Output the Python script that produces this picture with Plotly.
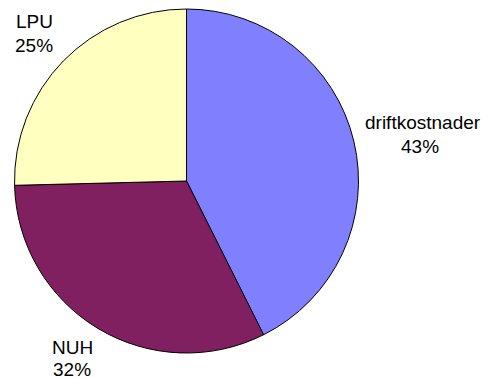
import plotly.graph_objects as go

labels = ["driftkostnader", "NUH", "LPU"]
values = [42.6, 32.0, 25.4]
colors = ["#8080FF", "#802060", "#FFFFC0"]
pct_text = ["43%", "32%", "25%"]

W, H = 484, 378

fig = go.Figure(go.Pie(
    labels=labels, values=values, sort=False, direction="clockwise", rotation=0,
    marker=dict(colors=colors, line=dict(color="black", width=1)),
    textinfo="none", hoverinfo="label+percent", showlegend=False,
    domain=dict(x=[14.5 / W, 358.5 / W], y=[(H - 353) / H, (H - 9) / H]),
))

# label positions (pixel centers) for name and percent lines
label_pos = {
    "driftkostnader": ((423, 122), (420, 146)),
    "NUH": ((72, 347), (72, 369)),
    "LPU": ((34, 22), (34, 45)),
}
font = dict(family="Liberation Sans, Arial, sans-serif", size=19, color="black")
for lab, pct in zip(labels, pct_text):
    (x1, y1), (x2, y2) = label_pos[lab]
    for txt, (x, y) in ((lab, (x1, y1)), (pct, (x2, y2))):
        fig.add_annotation(text=txt, x=x / W, y=1 - y / H, xref="paper", yref="paper",
                           xanchor="center", yanchor="middle", showarrow=False, font=font)

fig.update_layout(width=W, height=H, margin=dict(l=0, r=0, t=0, b=0),
                  paper_bgcolor="white", plot_bgcolor="white")
fig.write_html("out.html")
